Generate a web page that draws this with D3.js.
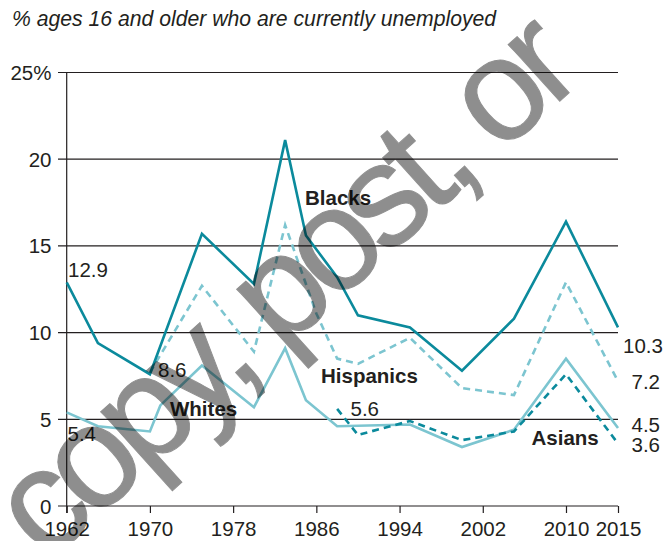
<!DOCTYPE html>
<html>
<head>
<meta charset="utf-8">
<script src="https://cdn.jsdelivr.net/npm/d3@7"></script>
<style>
  html, body { margin: 0; padding: 0; background: #fff; }
  svg { display: block; }
  text { font-family: "Liberation Sans", Arial, Helvetica, sans-serif; fill: #231f20; }
</style>
</head>
<body>
<svg id="chart" width="664" height="541"></svg>
<script>
// ---- data ----
const titleText = "% ages 16 and older who are currently unemployed";
const yTicks = [0, 5, 10, 15, 20, 25];
const yTickLabels = ["0", "5", "10", "15", "20", "25%"];
const xTicks = [1962, 1970, 1978, 1986, 1994, 2002, 2010, 2015];

const blackYears = [1962, 1965, 1970, 1975, 1980, 1983, 1985, 1988, 1990, 1995, 2000, 2005, 2010, 2015];
const blackValues = [12.9, 9.4, 7.6, 15.7, 12.8, 21.1, 15.6, 13.2, 11.0, 10.3, 7.8, 10.8, 16.4, 10.3];

const hispanicYears = [1970, 1975, 1980, 1983, 1986, 1988, 1990, 1995, 2000, 2005, 2010, 2015];
const hispanicValues = [7.7, 12.7, 8.9, 16.2, 11.1, 8.5, 8.2, 9.7, 6.8, 6.4, 12.9, 7.2];

const whiteYears = [1962, 1965, 1970, 1971, 1975, 1980, 1983, 1985, 1988, 1995, 2000, 2005, 2010, 2015];
const whiteValues = [5.4, 4.6, 4.3, 5.8, 8.1, 5.7, 9.1, 6.1, 4.6, 4.7, 3.4, 4.4, 8.5, 4.5];

const asianYears = [1988, 1990, 1995, 2000, 2005, 2010, 2015];
const asianValues = [5.6, 4.1, 4.9, 3.8, 4.3, 7.6, 3.6];

const seriesNames = ["Blacks", "Hispanics", "Whites", "Asians"];
const endLabels = ["10.3", "7.2", "4.5", "3.6"];
const startLabels = ["12.9", "8.6", "5.4", "5.6"];
const watermarkText = "copy, post, or";

// ---- layout ----
const svg = d3.select("#chart");
const darkTeal = "#0b8a9c";
const lightTeal = "#7cc5d0";

const x = d3.scaleLinear().domain([1962, 2015]).range([66.7, 618]);
const y = d3.scaleLinear().domain([0, 25]).range([506, 72.5]);

// title
svg.append("text")
  .attr("x", 12).attr("y", 26)
  .style("font-size", "21.2px").style("font-style", "italic")
  .text(titleText);

// gridlines
svg.append("g").selectAll("line").data(yTicks).join("line")
  .attr("x1", 58).attr("x2", x(2015))
  .attr("y1", d => y(d)).attr("y2", d => y(d))
  .attr("stroke", "#231f20").attr("stroke-width", 1.2);

// y axis line
svg.append("line")
  .attr("x1", x(1962)).attr("x2", x(1962))
  .attr("y1", y(25)).attr("y2", y(0) + 7)
  .attr("stroke", "#231f20").attr("stroke-width", 1.2);

// y tick labels
svg.append("g").selectAll("text").data(yTicks).join("text")
  .attr("x", 51.5).attr("y", d => y(d) + 7.5)
  .attr("text-anchor", "end")
  .style("font-size", "20.5px")
  .text((d, i) => yTickLabels[i]);

// x axis ticks and labels
const xAxis = d3.axisBottom(x).tickValues(xTicks).tickFormat(d3.format("d")).tickSize(7).tickPadding(7);
const gx = svg.append("g").attr("transform", `translate(0,${y(0)})`).call(xAxis);
gx.select(".domain").remove();
gx.selectAll(".tick line").attr("stroke", "#231f20").attr("stroke-width", 1.2);
gx.selectAll(".tick text")
  .attr("dy", null).attr("y", 30)
  .style("font-size", "20.5px")
  .style("font-family", "'Liberation Sans', Arial, sans-serif")
  .attr("fill", "#231f20");

// lines
const line = d3.line().x(d => x(d[0])).y(d => y(d[1]));
function drawSeries(years, values, color, dash) {
  svg.append("path")
    .datum(years.map((yr, i) => [yr, values[i]]))
    .attr("d", line)
    .attr("fill", "none")
    .attr("stroke", color)
    .attr("stroke-width", 2.6)
    .attr("stroke-linejoin", "miter")
    .attr("stroke-dasharray", dash);
}
drawSeries(whiteYears, whiteValues, lightTeal, null);
drawSeries(hispanicYears, hispanicValues, lightTeal, "7,5");
drawSeries(asianYears, asianValues, darkTeal, "7,5");
drawSeries(blackYears, blackValues, darkTeal, null);

// series name labels (bold)
const nameLabels = svg.append("g").style("font-size", "20.5px").style("font-weight", "bold");
nameLabels.append("text").attr("x", 305).attr("y", 205).text(seriesNames[0]);
nameLabels.append("text").attr("x", 321).attr("y", 383).text(seriesNames[1]);
nameLabels.append("text").attr("x", 170).attr("y", 416).text(seriesNames[2]);
nameLabels.append("text").attr("x", 531.5).attr("y", 445).text(seriesNames[3]);

// value labels
const valLabels = svg.append("g").style("font-size", "20.5px");
valLabels.append("text").attr("x", 68).attr("y", 277).text(startLabels[0]);
valLabels.append("text").attr("x", 158).attr("y", 377).text(startLabels[1]);
valLabels.append("text").attr("x", 67.5).attr("y", 441).text(startLabels[2]);
valLabels.append("text").attr("x", 350.5).attr("y", 416).text(startLabels[3]);

valLabels.append("text").attr("x", 623).attr("y", 352.7).text(endLabels[0]);
valLabels.append("text").attr("x", 631.5).attr("y", 389).text(endLabels[1]);
valLabels.append("text").attr("x", 631.5).attr("y", 431.7).text(endLabels[2]);
valLabels.append("text").attr("x", 631.5).attr("y", 451.7).text(endLabels[3]);

// watermark
const wm = svg.append("g").attr("opacity", 0.44);
wm.append("text")
  .attr("transform", "translate(46,564) rotate(-42)")
  .style("font-size", "145px")
  .style("letter-spacing", "-10px")
  .style("fill", "#000")
  .attr("stroke", "#000").attr("stroke-width", 1)
  .text(watermarkText);
</script>
</body>
</html>
